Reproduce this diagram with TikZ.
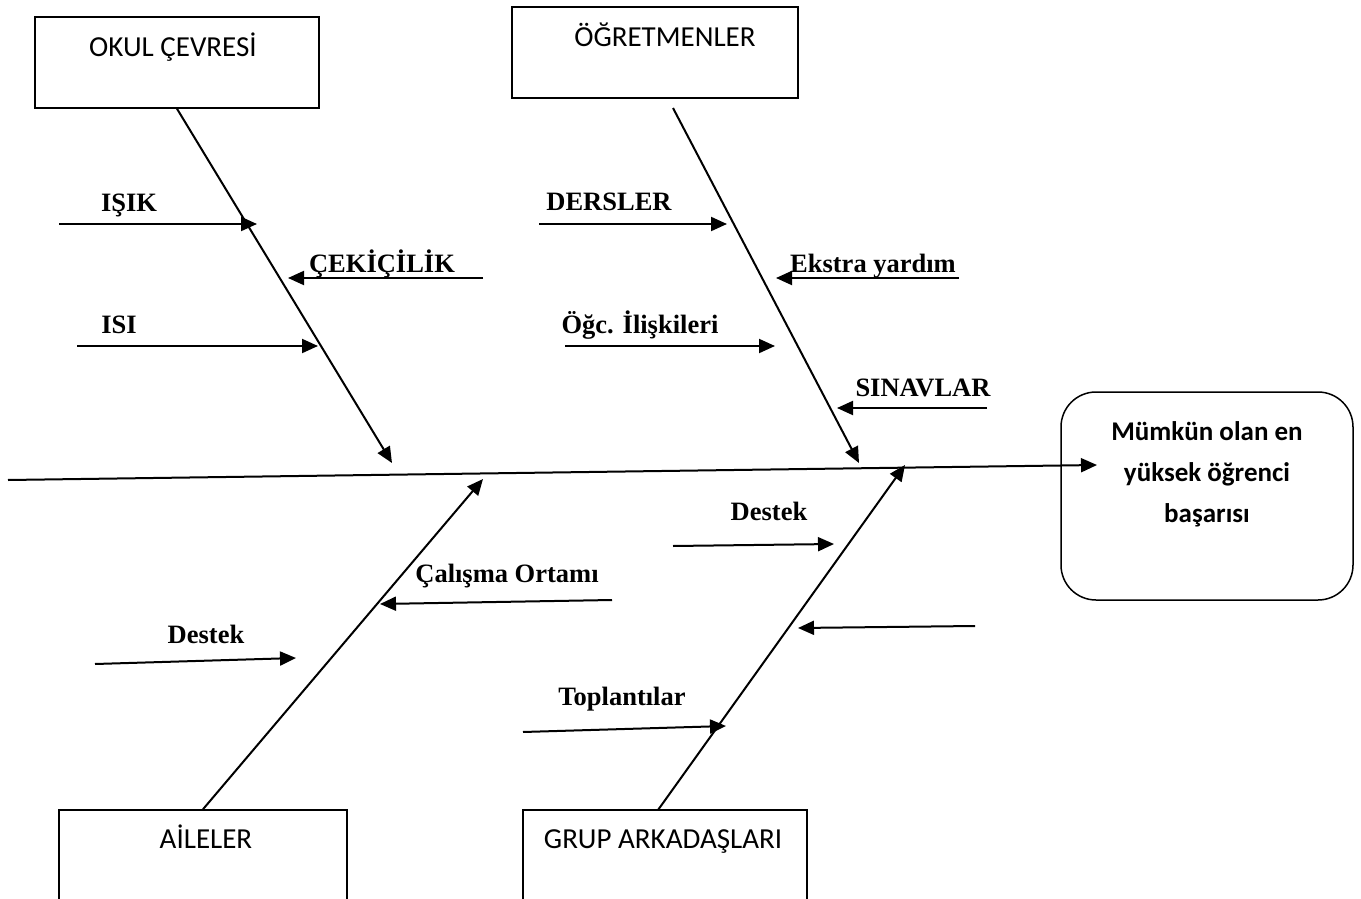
\documentclass[tikz,border=0pt]{standalone}
\usepackage{fontspec}
\setmainfont{Carlito}
\newfontfamily\labelfont{Liberation Serif}
\usetikzlibrary{arrows.meta,positioning,calc}

\tikzset{
  catbox/.style={draw,line width=1.5pt,minimum width=284pt,minimum height=91pt,inner sep=0pt},
  cattext/.style={font=\fontsize{29}{34}\selectfont,anchor=base,inner sep=0pt},
  bone/.style={line width=2pt,-{Triangle[length=16pt,width=14pt]}},
  rib/.style={line width=2pt,-{Triangle[length=16pt,width=14pt]}},
  ribtext/.style={font=\labelfont\bfseries\fontsize{26.5}{31}\selectfont,anchor=base,inner sep=0pt},
}

\begin{document}
\begin{tikzpicture}[x=1pt,y=-1pt]
    \clip (0,0) rectangle (1361,899);
    \fill[white] (0,0) rectangle (1361,899);

    % categories
    \node[catbox] (okul) at (177,62.5) {};
    \node[cattext] (okultxt) at (173,57) {OKUL ÇEVRESİ};
    \node[catbox,minimum width=286pt] (ogretmen) at (655,52.5) {};
    \node[cattext] (ogretmentxt) at (665,47) {ÖĞRETMENLER};
    \node[catbox,minimum width=288pt,minimum height=140pt] (aile) at (203,880) {};
    \node[cattext] (ailetxt) at (206,848) {AİLELER};
    \node[catbox,minimum width=284pt,minimum height=140pt] (grup) at (665,880) {};
    \node[cattext] (gruptxt) at (663,848) {GRUP ARKADAŞLARI};

    % effect
    \node[draw,line width=1.5pt,rounded corners=35pt,minimum width=292pt,minimum height=208pt]
        (sonuc) at (1207,496) {};
    \node[font=\bfseries\fontsize{27}{41}\selectfont,align=center,anchor=base,inner sep=0pt]
        (sonuctxt) at (1207,522) {Mümkün olan en\\yüksek öğrenci\\başarısı};

    % spine
    \coordinate (spineL) at (8,480);
    \coordinate (spineR) at (1097,465);
    \draw[bone] (spineL) -- (spineR);

    % main bones
    \coordinate (okulT) at (392,463);
    \coordinate (ogretmenS) at (673,108);
    \coordinate (ogretmenT) at (859,463);
    \coordinate (aileT) at (483,479);
    \coordinate (grupS) at (658,810);
    \coordinate (grupT) at (905,465);
    \draw[bone] (okul.south) -- (okulT);
    \draw[bone] (ogretmenS) -- (ogretmenT);
    \draw[bone] (aile.north) -- (aileT);
    \draw[bone] (grupS) -- (grupT);

    % okul cevresi ribs
    \coordinate (isikA) at (59,224);  \coordinate (isikB) at (257,224);
    \coordinate (cekA) at (483,278);  \coordinate (cekB) at (288,278);
    \coordinate (isiA) at (77,346);   \coordinate (isiB) at (318,346);
    \draw[rib] (isikA) -- (isikB);
    \draw[rib] (cekA) -- (cekB);
    \draw[rib] (isiA) -- (isiB);
    \node[ribtext] (isiktxt) at (129,211) {IŞIK};
    \node[ribtext] (cektxt) at (382,272) {ÇEKİÇİLİK};
    \node[ribtext] (isitxt) at (119,333) {ISI};

    % ogretmenler ribs
    \coordinate (dersA) at (539,224); \coordinate (dersB) at (727,224);
    \coordinate (ekA) at (959,278);   \coordinate (ekB) at (776,278);
    \coordinate (ogcA) at (565,346);  \coordinate (ogcB) at (775,346);
    \coordinate (sinA) at (987,408);  \coordinate (sinB) at (837,408);
    \draw[rib] (dersA) -- (dersB);
    \draw[rib] (ekA) -- (ekB);
    \draw[rib] (ogcA) -- (ogcB);
    \draw[rib] (sinA) -- (sinB);
    \node[ribtext] (derstxt) at (609,210) {DERSLER};
    \node[ribtext] (ektxt) at (873,272) {Ekstra yardım};
    \node[ribtext] (ogctxt) at (640,333) {Öğc. İlişkileri};
    \node[ribtext] (sintxt) at (923,396) {SINAVLAR};

    % aileler ribs
    \coordinate (calA) at (612,600); \coordinate (calB) at (380,604);
    \coordinate (desAA) at (95,664); \coordinate (desAB) at (296,658);
    \draw[rib] (calA) -- (calB);
    \draw[rib] (desAA) -- (desAB);
    \node[ribtext] (caltxt) at (507,582) {Çalışma Ortamı};
    \node[ribtext] (desAtxt) at (206,643) {Destek};

    % grup arkadaslari ribs
    \coordinate (desGA) at (673,546); \coordinate (desGB) at (834,544);
    \coordinate (bosA) at (975,626);  \coordinate (bosB) at (798,628);
    \coordinate (topA) at (523,732);  \coordinate (topB) at (726,726);
    \draw[rib] (desGA) -- (desGB);
    \draw[rib] (bosA) -- (bosB);
    \draw[rib] (topA) -- (topB);
    \node[ribtext] (desGtxt) at (769,520) {Destek};
    \node[ribtext] (toptxt) at (622,705) {Toplantılar};
\end{tikzpicture}
\end{document}
